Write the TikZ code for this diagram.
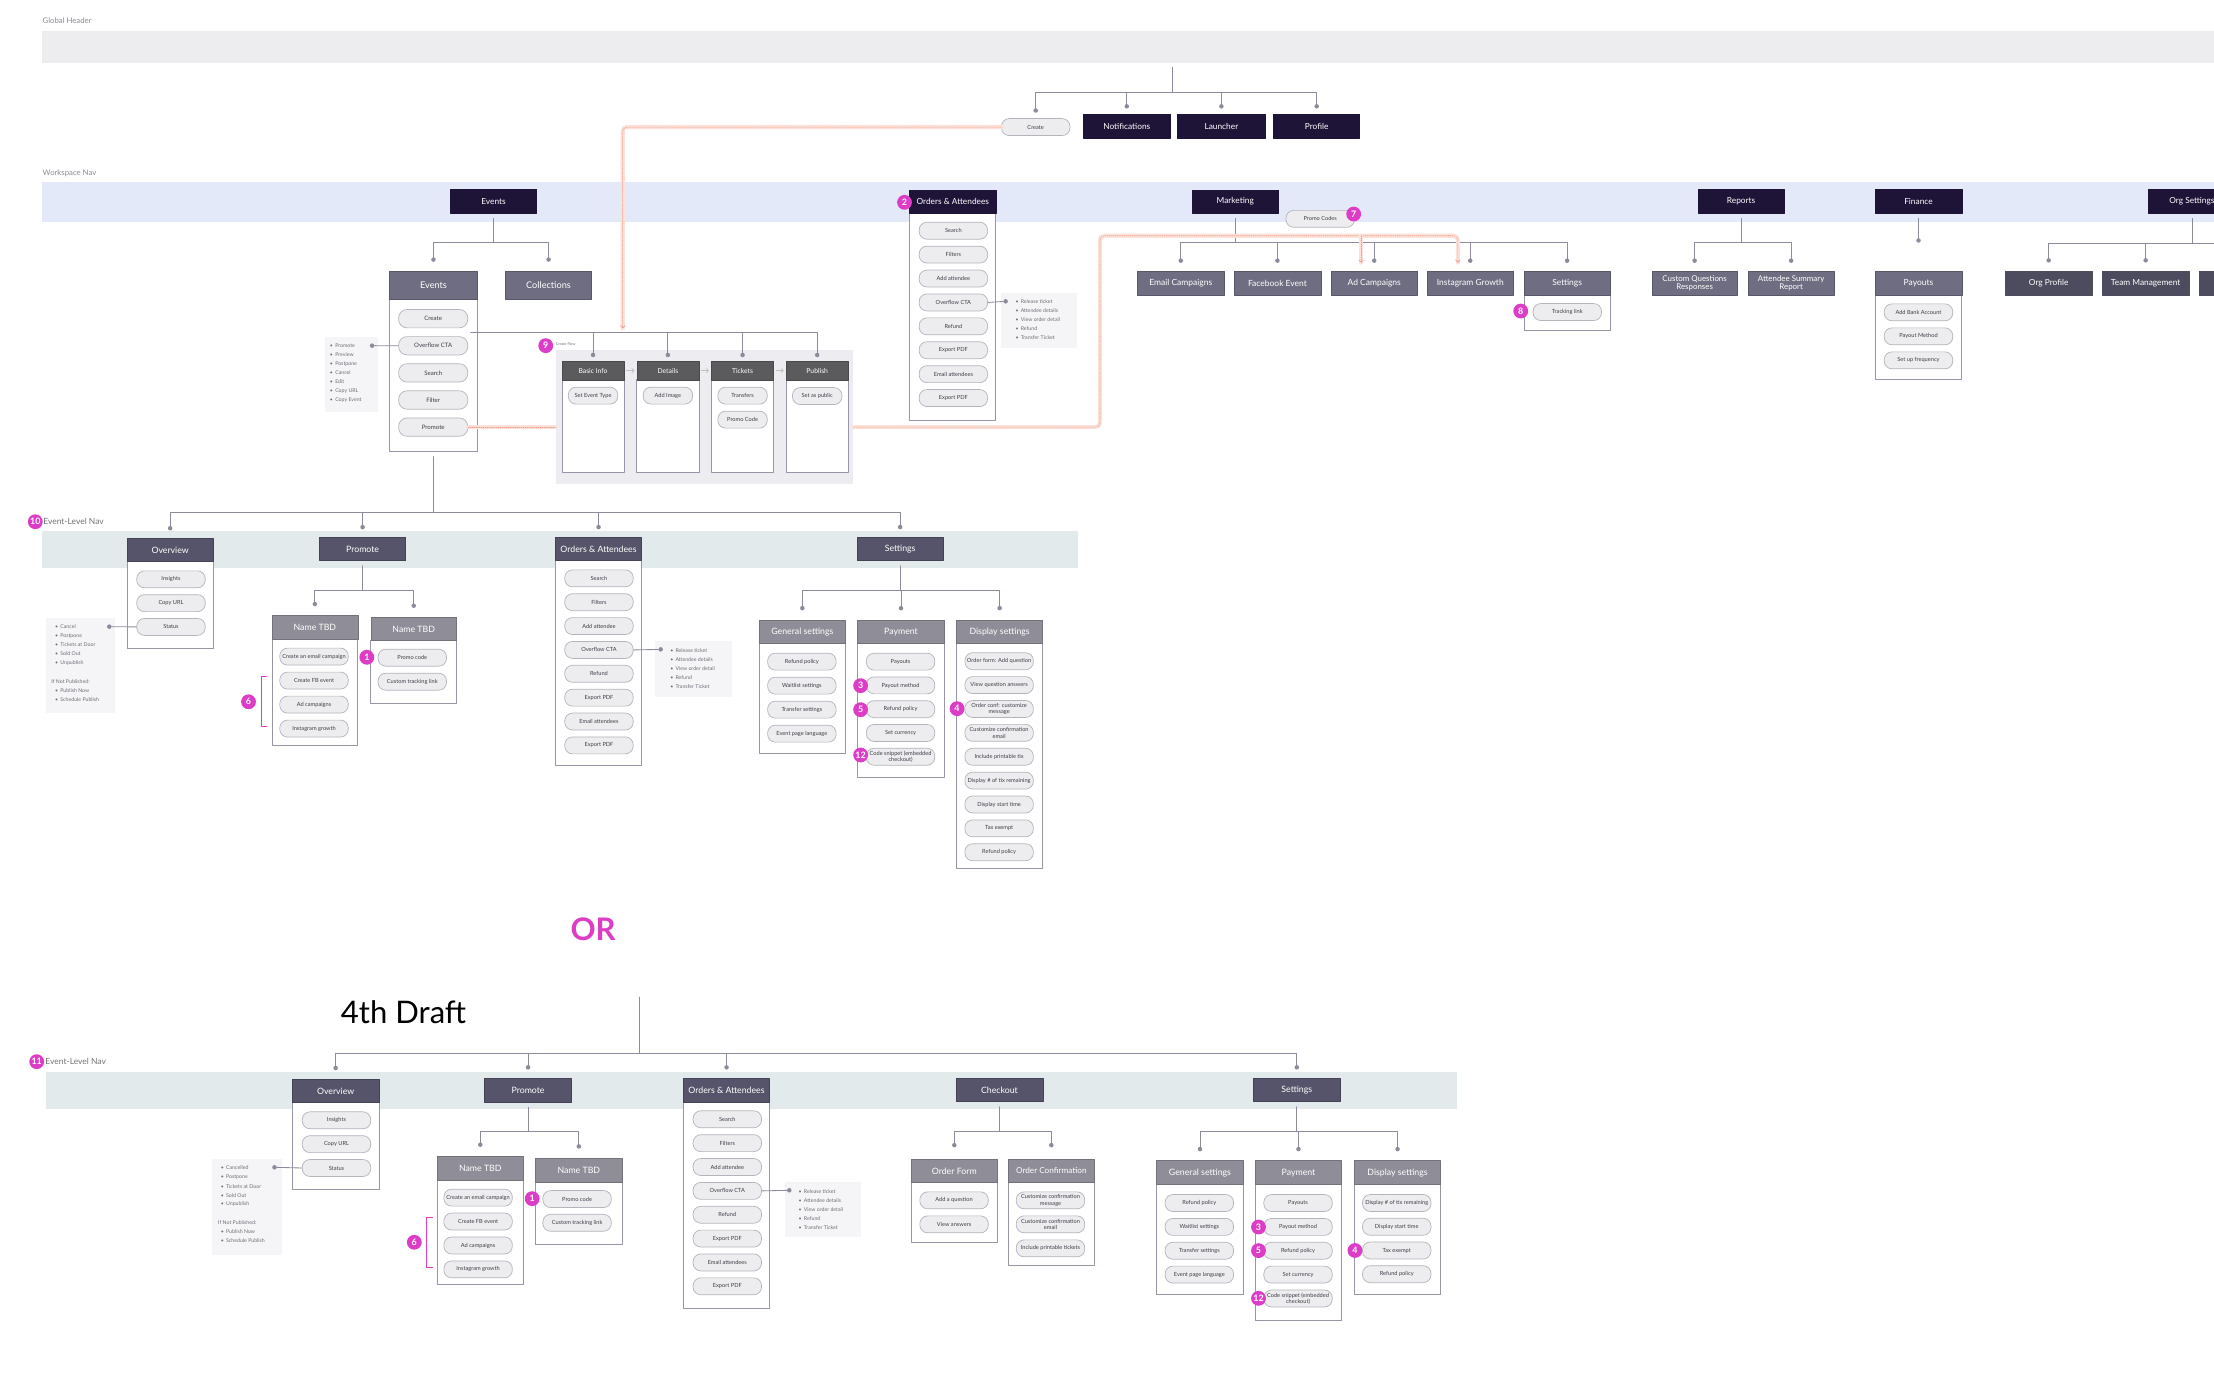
\documentclass[tikz,border=0pt]{standalone}
\usepackage{fontspec}
\setmainfont{Lato}
\usetikzlibrary{arrows.meta}

\definecolor{navy}{HTML}{1E1438}
\definecolor{slate}{HTML}{55546A}
\definecolor{subgray}{HTML}{6E6D82}
\definecolor{hdgray}{HTML}{8F8E98}
\definecolor{stepgray}{HTML}{5B5B5E}
\definecolor{orgray}{HTML}{4D4C5F}
\definecolor{pillfill}{HTML}{EDEDEF}
\definecolor{pillline}{HTML}{B5B4BC}
\definecolor{pilltext}{HTML}{3F3E49}
\definecolor{colline}{HTML}{9896A6}
\definecolor{linkc}{HTML}{8D8B9B}
\definecolor{notefill}{HTML}{F5F5F7}
\definecolor{notetext}{HTML}{6F6E78}
\definecolor{hdrband}{HTML}{EDEDF0}
\definecolor{wsband}{HTML}{E3E9F9}
\definecolor{evband}{HTML}{E3EAEC}
\definecolor{flowpanel}{HTML}{EDEDF1}
\definecolor{badgec}{HTML}{DC3CC6}
\definecolor{flowlight}{HTML}{FBE1D9}
\definecolor{flowdot}{HTML}{EC9A86}
\definecolor{labelgray}{HTML}{8C8B98}

\tikzset{
  bandlabel/.style={anchor=west, inner sep=0, text=labelgray, font=\fontsize{5.5}{6}\selectfont},
  navbox/.style={fill=navy, draw=navy, text=white, inner sep=0, align=center, font=\fontsize{5.9}{6.3}\selectfont},
  subbox/.style={navbox, fill=subgray, draw=subgray!80!black, font=\fontsize{6}{6}\selectfont},
  slatebox/.style={navbox, fill=slate, draw=slate!80!black, font=\fontsize{6.2}{6.8}\selectfont},
  lightbox/.style={navbox, fill=hdgray, draw=hdgray!80!black, font=\fontsize{6.2}{6.8}\selectfont},
  orgbox/.style={navbox, fill=orgray, draw=orgray},
  stephead/.style={navbox, fill=stepgray, draw=stepgray!80!black, font=\fontsize{4.8}{5.4}\selectfont},
  colbody/.style={draw=colline, fill=white, line width=0.6pt, inner sep=0},
  pill/.style={draw=pillline, fill=pillfill, rounded corners=5.5pt, minimum width=48.5pt, minimum height=12pt,
    inner sep=0, align=center, text=pilltext, line width=0.5pt, font=\fontsize{4}{4.4}\selectfont},
  note/.style={fill=notefill, inner sep=0},
  notetxt/.style={anchor=west, inner sep=0, text=notetext, font=\fontsize{3.7}{4}\selectfont},
  link/.style={draw=linkc, line width=0.6pt},
  dot/.style={circle, fill=linkc, inner sep=0, minimum size=3.2pt},
  badge/.style={circle, fill=badgec, text=white, inner sep=0, minimum size=10.5pt, font=\bfseries\fontsize{6.3}{6.3}\selectfont},
  root/.style={inner sep=0, minimum size=0},
  bracket/.style={draw=badgec, line width=0.7pt},
  flowbg/.style={fill=flowpanel, inner sep=0},
  steparrow/.style={draw=black!25, line width=0.5pt, shorten <=1.5pt, shorten >=1.5pt, -{Straight Barb[length=1.5pt,width=3pt]}},
  flow/.style={draw=flowlight, line width=3pt, rounded corners=3pt,
    postaction={draw=flowdot, line width=0.45pt, dash pattern=on 0.6pt off 0.9pt, #1}},
  flow/.default={},
  flowend/.style={flow={-{Straight Barb[length=1.6pt,width=3.4pt]}}},
}

% box without body: name, x1, x2, y1, y2, style, label
\newcommand{\navtab}[7]{%
  \node[#6, minimum width=#3pt-#2pt, minimum height=#5pt-#4pt] (#1) at ({(#2+#3)/2},{(#4+#5)/2}) {#7};}
% box with white body: name, x1, x2, y1, y2 (header), y3 (bottom), style, label
\newcommand{\colpanel}[8]{%
  \node[colbody, minimum width=#3pt-#2pt, minimum height=#6pt-#5pt] (#1b) at ({(#2+#3)/2},{(#5+#6)/2}) {};
  \node[#7, minimum width=#3pt-#2pt, minimum height=#5pt-#4pt] (#1) at ({(#2+#3)/2},{(#4+#5)/2}) {#8};}
% tree: parent, bus y, dot gap, children
\newcommand{\fanout}[4]{%
  \draw[link] ([yshift=-3.5pt]#1.south) -- (#1.south |- 0,#2);
  \foreach \kid in {#4}{%
    \draw[link] (#1.south |- 0,#2) -| ([yshift=#3pt]\kid.north);
    \fill[linkc] ([yshift=#3pt]\kid.north) circle[radius=1.6pt];}}

\begin{document}
\begin{tikzpicture}[x=1pt, y=-1pt, line join=round, line cap=round]
\useasboundingbox (0,0) rectangle (1568,973);
\clip (0,0) rectangle (1568,973);
\fill[white] (0,0) rectangle (1568,973);

% global header
\fill[hdrband] (30,22) rectangle (1568,44.4);
\node[bandlabel] (lblGlobal) at (30,14.5) {Global Header};
\node[root] (hdroot) at (830,44) {};
\node[pill] (pCreate) at (733.5,90) {Create};
\navtab{tNotif}{767}{829}{81}{98}{navbox}{Notifications}
\navtab{tLaunch}{834}{896}{81}{98}{navbox}{Launcher}
\navtab{tProfile}{902}{963}{81}{98}{navbox}{Profile}
\fanout{hdroot}{65.4}{5.5}{pCreate,tNotif,tLaunch,tProfile}

% workspace nav
\fill[wsband] (30,129) rectangle (1568,157);
\node[bandlabel] (lblWork) at (30,122.7) {Workspace Nav};
\navtab{wEvents}{319}{380}{134}{151}{navbox}{Events}
\colpanel{wOrders}{644.3}{705.3}{134.6}{151}{297.5}{navbox}{Orders \& Attendees}
\navtab{wMarketing}{844.2}{905.5}{134.6}{151}{navbox}{Marketing}
\navtab{wReports}{1202.6}{1263.5}{134}{151}{navbox}{Reports}
\navtab{wFinance}{1328}{1389.4}{134}{151}{navbox}{Finance}
\navtab{wOrg}{1521.7}{1583}{134}{151}{navbox}{Org Settings}

% events
\colpanel{sEvents}{276}{338}{192}{212}{319.5}{subbox, font=\fontsize{6.5}{7}\selectfont}{Events}
\navtab{sCollections}{358}{419}{192}{212}{subbox, font=\fontsize{6.5}{7}\selectfont}{Collections}
\fanout{wEvents}{171.6}{8}{sEvents,sCollections}
\foreach \t [count=\i] in {Create,Overflow CTA,Search,Filter,Promote}
  \node[pill, minimum width=49pt, minimum height=13pt, rounded corners=6pt, font=\fontsize{4.3}{5}\selectfont] (ev\i) at (306.8,{225.7+(\i-1)*19.2}) {\t};
\node[note, minimum width=38pt, minimum height=53.2pt] (evNote) at (249,265.4) {};
\foreach \t [count=\i] in {Promote,Preview,Postpone,Cancel,Edit,Copy URL,Copy Event}
  \node[notetxt] (evn\i) at (233.5,{244.8+(\i-1)*6.45}) {\textbullet\hspace{1.6pt}\t};
\node[dot] (evDot) at (263.5,244.8) {};
\draw[link] (evDot) -- (ev2.west);

% create flow
\node[flowbg, minimum width=210.9pt, minimum height=94.9pt] (cfPanel) at (498.95,295.35) {};
\colpanel{st1}{398}{442}{256}{269}{334.4}{stephead}{Basic Info}
\colpanel{st2}{451}{495}{256}{269}{334.4}{stephead}{Details}
\colpanel{st3}{503.8}{548}{256}{269}{334.4}{stephead}{Tickets}
\colpanel{st4}{556.7}{600.8}{256}{269}{334.4}{stephead}{Publish}
\foreach \i/\j in {1/2,2/3,3/4} \draw[steparrow] (st\i.east) -- (st\j.west);
\node[pill, minimum width=35pt] (cfType) at (420,280.2) {Set Event Type};
\node[pill, minimum width=35pt] (cfImage) at (473,280.2) {Add Image};
\node[pill, minimum width=35pt] (cfTrans) at (525.9,280.2) {Transfers};
\node[pill, minimum width=35pt] (cfPromo) at (525.9,297.2) {Promo Code};
\node[pill, minimum width=35pt] (cfPublic) at (578.75,280.5) {Set as public};
\coordinate (cfroot) at (333.6,235.4);
\foreach \i in {1,...,4}{
  \draw[link] (cfroot) -| ([yshift=4.4pt]st\i.north);
  \fill[linkc] ([yshift=4.4pt]st\i.north) circle[radius=1.6pt];}
\node[notetxt, font=\fontsize{2.6}{3}\selectfont] (cfLabel) at (393.5,243.5) {Create Flow};

% orders & attendees (workspace)
\foreach \t [count=\i] in {Search,Filters,Add attendee,Overflow CTA,Refund,Export PDF,Email attendees,Export PDF}
  \node[pill] (wo\i) at (675.2,{163.4+(\i-1)*16.93}) {\t};
\node[note, minimum width=54pt, minimum height=39pt] (woNote) at (736,227.2) {};
\foreach \t [count=\i] in {Release ticket,Attendee details,View order detail,Refund,Transfer Ticket}
  \node[notetxt] (won\i) at (719,{213.4+(\i-1)*6.4}) {\textbullet\hspace{1.6pt}\t};
\node[dot] (woDot) at (712.2,213.4) {};
\draw[link] (wo4.east) -- (woDot);

% marketing
\node[pill] (pPromo) at (935,155) {Promo Codes};
\navtab{mkEmail}{805.5}{867}{192}{209}{subbox}{Email Campaigns}
\navtab{mkFb}{873.9}{935.5}{192}{209}{subbox}{Facebook Event}
\navtab{mkAd}{942.5}{1004}{192}{209}{subbox}{Ad Campaigns}
\navtab{mkIg}{1010.5}{1072}{192}{209}{subbox}{Instagram Growth}
\colpanel{mkSet}{1079.4}{1140.3}{192}{209}{233.7}{subbox}{Settings}
\fanout{wMarketing}{171.9}{7.2}{mkEmail,mkFb,mkAd,mkIg,mkSet}
\node[pill] (mkTrack) at (1110,221) {Tracking link};

% reports
\navtab{rpCustom}{1170}{1230.3}{192}{209}{subbox, font=\fontsize{5.6}{6}\selectfont}{Custom Questions\\Responses}
\navtab{rpSummary}{1238}{1299}{192}{209}{subbox, font=\fontsize{5.6}{6}\selectfont}{Attendee Summary\\Report}
\fanout{wReports}{171.9}{7.2}{rpCustom,rpSummary}

% finance
\colpanel{fnPayouts}{1328}{1389.4}{192}{209}{268.6}{subbox}{Payouts}
\draw[link] ([yshift=-3.5pt]wFinance.south) -- ([yshift=21.5pt]fnPayouts.north);
\fill[linkc] ([yshift=21.5pt]fnPayouts.north) circle[radius=1.6pt];
\foreach \t [count=\i] in {Add Bank Account,Payout Method,Set up frequency}
  \node[pill] (fn\i) at (1358.7,{221.2+(\i-1)*17}) {\t};

% org settings
\navtab{orProfile}{1420}{1481.8}{192}{209}{orgbox}{Org Profile}
\navtab{orTeam}{1488.9}{1550.3}{192}{209}{orgbox}{Team Management}
\navtab{orMore}{1557.4}{1619}{192}{209}{orgbox}{}
\fanout{wOrg}{172.3}{7.4}{orProfile,orTeam,orMore}

% event-level nav
\fill[evband] (30,375.8) rectangle (763.6,402.5);
\node[bandlabel, text=black!55, font=\fontsize{6}{7}\selectfont] (lblEvent) at (30.5,369.5) {Event-Level Nav};
\colpanel{eOverview}{90}{151}{381.3}{397.8}{459}{slatebox}{Overview}
\navtab{ePromote}{226.4}{287.2}{380.5}{397}{slatebox}{Promote}
\colpanel{eOrders}{393.5}{454.3}{380.5}{397}{542}{slatebox}{Orders \& Attendees}
\navtab{eSettings}{607}{668}{380.5}{397}{slatebox}{Settings}
\fanout{sEventsb}{362.9}{7}{eOverview,ePromote,eOrders,eSettings}

\foreach \t [count=\i] in {Insights,Copy URL,Status}
  \node[pill] (eov\i) at (121.1,{410.3+(\i-1)*16.85}) {\t};
\node[note, minimum width=49.1pt, minimum height=67pt] (eovNote) at (57.15,471.5) {};
\foreach \t [count=\i] in {Cancel,Postpone,Tickets at Door,Sold Out,Unpublish}
  \node[notetxt] (eovn\i) at (38.8,{443.8+(\i-1)*6.43}) {\textbullet\hspace{1.6pt}\t};
\node[notetxt] (eovIf) at (36.2,482.8) {If Not Published:};
\foreach \t [count=\i] in {Publish Now,Schedule Publish}
  \node[notetxt] (eovp\i) at (38.8,{489.2+(\i-1)*6.45}) {\textbullet\hspace{1.6pt}\t};
\node[dot] (eovDot) at (77.4,443.8) {};
\draw[link] (eovDot) -- (eov3.west);

\colpanel{eName1}{192.6}{253.4}{436}{452.8}{527.6}{lightbox}{Name TBD}
\colpanel{eName2}{262.6}{323.4}{437.2}{453.7}{498.1}{lightbox}{Name TBD}
\fanout{ePromote}{417.8}{8}{eName1,eName2}
\foreach \t [count=\i] in {Create an email campaign,Create FB event,Ad campaigns,Instagram growth}
  \node[pill] (ena\i) at (222.4,{465+(\i-1)*17}) {\t};
\foreach \t [count=\i] in {Promo code,Custom tracking link}
  \node[pill] (enb\i) at (292,{465.8+(\i-1)*17}) {\t};
\draw[bracket] (189,479.2) -| (185,514.6) -- (189,514.6);

\foreach \t [count=\i] in {Search,Filters,Add attendee,Overflow CTA,Refund,Export PDF,Email attendees,Export PDF}
  \node[pill] (eo\i) at (424.2,{409.6+(\i-1)*16.9}) {\t};
\node[note, minimum width=54.7pt, minimum height=39.4pt] (eoNote) at (491.25,473.7) {};
\foreach \t [count=\i] in {Release ticket,Attendee details,View order detail,Refund,Transfer Ticket}
  \node[notetxt] (eon\i) at (474.5,{460.6+(\i-1)*6.4}) {\textbullet\hspace{1.6pt}\t};
\node[dot] (eoDot) at (467.9,459.9) {};
\draw[link] (eo4.east) -- (eoDot);

\colpanel{eGen}{537.8}{598.7}{439.1}{455.6}{533.5}{lightbox}{General settings}
\colpanel{ePay}{607.4}{668.8}{439.1}{455.6}{550.5}{lightbox}{Payment}
\colpanel{eDisp}{677.5}{738.4}{439.1}{455.6}{615}{lightbox}{Display settings}
\fanout{eSettings}{418.3}{8.2}{eGen,ePay,eDisp}
\foreach \t [count=\i] in {Refund policy,Waitlist settings,Transfer settings,Event page language}
  \node[pill] (eg\i) at (567.9,{468.6+(\i-1)*17}) {\t};
\foreach \t [count=\i] in {Payouts,Payout method,Refund policy,Set currency,Code snippet (embedded\\checkout)}
  \node[pill] (ep\i) at (637.8,{468.6+(\i-1)*16.83}) {\t};
\foreach \t [count=\i] in {Order form: Add question,View question answers,Order conf: customize\\message,Customize confirmation\\email,Include printable tix,Display \# of tix remaining,Display start time,Tax exempt,Refund policy}
  \node[pill] (ed\i) at (707.6,{468.3+(\i-1)*16.91}) {\t};

% or
\node[font=\bfseries\fontsize{22}{24}\selectfont, text=badgec] (orLabel) at (420,658) {OR};

% 4th draft
\node[font=\fontsize{22}{24}\selectfont, text=black] (draftTitle) at (285.8,716.5) {4th Draft};
\node[root] (draftRoot) at (453,702.5) {};
\fill[evband] (32.5,759) rectangle (1031.7,785.4);
\node[bandlabel, text=black!55, font=\fontsize{6}{7}\selectfont] (lblDraft) at (32,751.9) {Event-Level Nav};
\colpanel{fOverview}{207}{268.4}{764.2}{781}{842.3}{slatebox}{Overview}
\navtab{fPromote}{343.3}{404.7}{763.7}{780.5}{slatebox}{Promote}
\colpanel{fOrders}{484.2}{544.9}{763.7}{780.5}{926.6}{slatebox}{Orders \& Attendees}
\navtab{fCheckout}{677}{738.7}{763.7}{780.2}{slatebox}{Checkout}
\navtab{fSettings}{887.8}{949}{763.7}{780.2}{slatebox}{Settings}
\fanout{draftRoot}{746}{7.6}{fOverview,fPromote,fOrders,fSettings}

\foreach \t [count=\i] in {Insights,Copy URL,Status}
  \node[pill] (fo\i) at (238.3,{793.4+(\i-1)*16.9}) {\t};
\node[note, minimum width=49.5pt, minimum height=68pt] (foNote) at (174.75,854.8) {};
\foreach \t [count=\i] in {Cancelled,Postpone,Tickets at Door,Sold Out,Unpublish}
  \node[notetxt] (fon\i) at (156.2,{827.2+(\i-1)*6.42}) {\textbullet\hspace{1.6pt}\t};
\node[notetxt] (foIf) at (154.3,865.7) {If Not Published:};
\foreach \t [count=\i] in {Publish Now,Schedule Publish}
  \node[notetxt] (fop\i) at (156.2,{872.3+(\i-1)*6.6}) {\textbullet\hspace{1.6pt}\t};
\node[dot] (foDot) at (194.4,826.7) {};
\draw[link] (foDot) -- (fo3.west);

\colpanel{fName1}{309.6}{370.7}{819.2}{835.7}{910}{lightbox}{Name TBD}
\colpanel{fName2}{379.4}{440.5}{820.4}{837}{881.2}{lightbox}{Name TBD}
\fanout{fPromote}{801.5}{8.3}{fName1,fName2}
\foreach \t [count=\i] in {Create an email campaign,Create FB event,Ad campaigns,Instagram growth}
  \node[pill] (fna\i) at (338.6,{848.2+(\i-1)*16.93}) {\t};
\foreach \t [count=\i] in {Promo code,Custom tracking link}
  \node[pill] (fnb\i) at (408.7,{849.2+(\i-1)*16.8}) {\t};
\draw[bracket] (306.4,862.1) -| (302,897.5) -- (306.4,897.5);

\foreach \t [count=\i] in {Search,Filters,Add attendee,Overflow CTA,Refund,Export PDF,Email attendees,Export PDF}
  \node[pill] (fr\i) at (515.1,{792.7+(\i-1)*16.9}) {\t};
\node[note, minimum width=53.9pt, minimum height=38.5pt] (frNote) at (582.55,856.55) {};
\foreach \t [count=\i] in {Release ticket,Attendee details,View order detail,Refund,Transfer Ticket}
  \node[notetxt] (frn\i) at (565.4,{843.7+(\i-1)*6.4}) {\textbullet\hspace{1.6pt}\t};
\node[dot] (frDot) at (559,843) {};
\draw[link] (fr4.east) -- (frDot);

\colpanel{fForm}{645.4}{706.3}{820.8}{837.6}{879.8}{lightbox}{Order Form}
\colpanel{fConf}{714.1}{775}{820.8}{837.6}{896.4}{lightbox, font=\fontsize{5.8}{6.4}\selectfont}{Order Confirmation}
\fanout{fCheckout}{801.2}{9.6}{fForm,fConf}
\foreach \t [count=\i] in {Add a question,View answers}
  \node[pill] (ff\i) at (675.7,{850.1+(\i-1)*17}) {\t};
\foreach \t [count=\i] in {Customize confirmation\\message,Customize confirmation\\email,Include printable tickets}
  \node[pill] (fc\i) at (744,{850.1+(\i-1)*17}) {\t};

\colpanel{fGen}{819}{880.7}{822}{839}{916.7}{lightbox}{General settings}
\colpanel{fPay}{889.2}{950}{822}{839}{934.8}{lightbox}{Payment}
\colpanel{fDisp}{959.3}{1020.2}{822}{839}{916.7}{lightbox}{Display settings}
\fanout{fSettings}{801.2}{8}{fGen,fPay,fDisp}
\foreach \t [count=\i] in {Refund policy,Waitlist settings,Transfer settings,Event page language}
  \node[pill] (fg\i) at (849.4,{852+(\i-1)*16.9}) {\t};
\foreach \t [count=\i] in {Payouts,Payout method,Refund policy,Set currency,Code snippet (embedded\\checkout)}
  \node[pill] (fp\i) at (919.3,{852+(\i-1)*16.9}) {\t};
\foreach \t [count=\i] in {Display \# of tix remaining,Display start time,Tax exempt,Refund policy}
  \node[pill] (fd\i) at (989.2,{852+(\i-1)*16.8}) {\t};

% flow lines
\coordinate (cfIn) at (441,232.5);
\coordinate (adIn) at (964,186);
\coordinate (igIn) at (1032.5,186);
\draw[flowend] (pCreate.west) -| (cfIn);
\draw[flow] (ev5.east) -- (cfPanel.west |- ev5.east);
\draw[flowend] (cfPanel.east |- ev5.east) -| (779,167) -| (igIn);
\draw[flowend] (964,167) -- (adIn);

% badges
\node[badge] (bg1) at (259.8,465.5) {1};
\node[badge] (bg2) at (640.6,143.3) {2};
\node[badge] (bg3) at (609.5,485.6) {3};
\node[badge] (bg4) at (677.8,501.9) {4};
\node[badge] (bg5) at (609.5,502.6) {5};
\node[badge] (bg6) at (176,497) {6};
\node[badge] (bg7) at (958.7,151.6) {7};
\node[badge] (bg8) at (1077,220.3) {8};
\node[badge] (bg9) at (386.5,244.8) {9};
\node[badge] (bg10) at (25,369.5) {10};
\node[badge] (bg12) at (609.5,534.7) {12};
\node[badge] (fbg1) at (376.9,848.9) {1};
\node[badge] (fbg3) at (891.3,869) {3};
\node[badge] (fbg4) at (959.6,885.6) {4};
\node[badge] (fbg5) at (891.3,885.7) {5};
\node[badge] (fbg6) at (293.4,879.8) {6};
\node[badge] (bg11) at (26,751.9) {11};
\node[badge] (fbg12) at (891.3,919.5) {12};
\end{tikzpicture}
\end{document}
